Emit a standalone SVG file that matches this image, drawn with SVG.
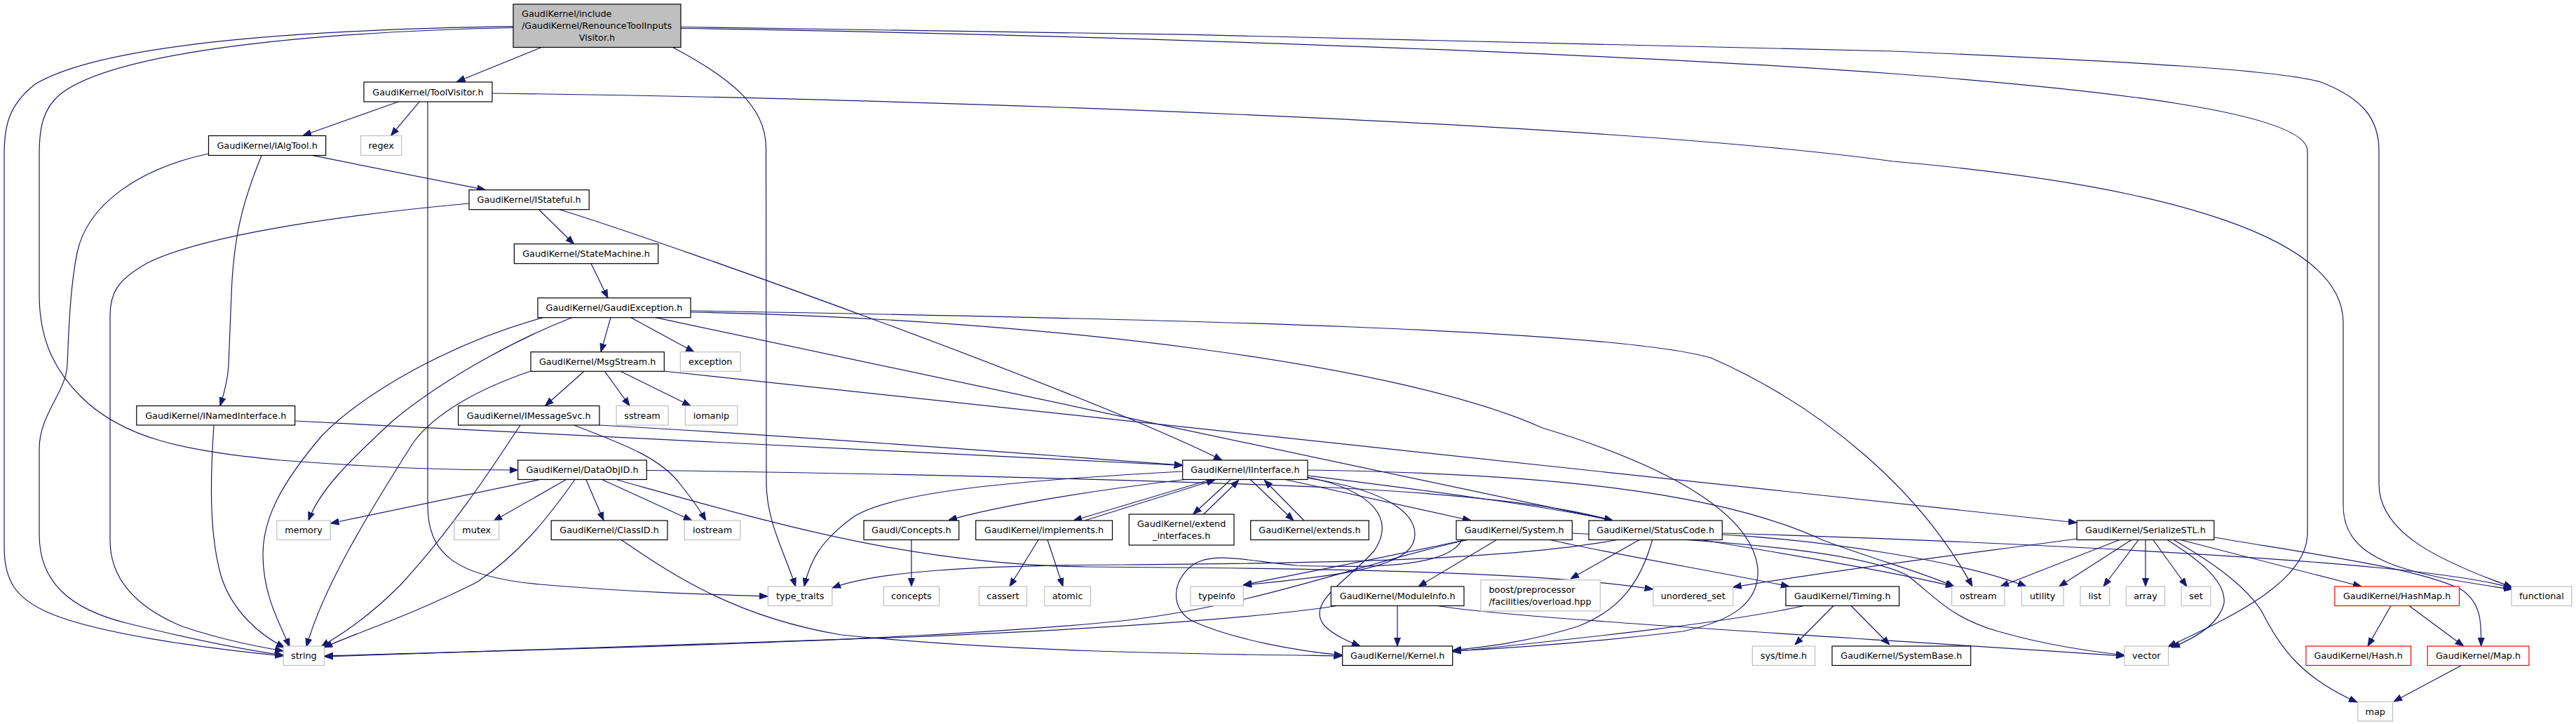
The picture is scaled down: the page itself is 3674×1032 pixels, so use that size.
<svg xmlns="http://www.w3.org/2000/svg" width="3674" height="1032" viewBox="0 0 3674 1032">
<defs>
<style>
text{font-family:"DejaVu Sans","Liberation Sans",sans-serif;font-size:12.8px;text-anchor:middle;fill:#000}
text.l{text-anchor:start}
.n rect{fill:#fff;stroke:#000;stroke-width:1.2}
.g rect{fill:#fff;stroke:#bfbfbf;stroke-width:1.2}
.r rect{fill:#fff;stroke:#ff0000;stroke-width:1.2}
.m rect{fill:#bfbfbf;stroke:#000;stroke-width:1.2}
#edges path{fill:none;stroke:#191970;stroke-width:1.2;marker-end:url(#a)}
</style>
<marker id="a" viewBox="0 0 12 10" refX="12" refY="5" markerWidth="12" markerHeight="10" markerUnits="userSpaceOnUse" orient="auto"><path d="M0,0.5L12,5L0,9.5z" fill="#191970" stroke="#191970" stroke-width="1"/></marker>
</defs>
<rect width="3674" height="1032" fill="#fff"/>
<g id="edges">
<path d="M771.6,67.7 L651.5,116.5"/>
<path d="M732,37.7 C450,42 150,60 50,120 C12,150 6,180 6,220 L6,780 C6,830 25,852 62,870 C130,903 300,925 404,935"/>
<path d="M732,39.5 C430,46 160,75 85,135 C62,155 56,180 56,220 L56,420 C56,480 75,525 115,565 C175,625 260,642 400,656 C560,668 650,670 738.7,670"/>
<path d="M958.7,67 C1040,110 1092,150 1092.5,210 L1093,690 C1094,745 1118,785 1134.7,836"/>
<path d="M971,40.5 C1500,48 2300,75 2700,105 C3000,128 3291,160 3291,215 L3291,760 C3291,830 3180,880 3092,922"/>
<path d="M971,38.5 C1500,44 2300,60 2700,73 C3050,88 3250,100 3310,117 C3370,140 3393,170 3393,215 L3393,690 C3393,760 3480,800 3583,837"/>
<path d="M569,144.7 L432,193.3"/>
<path d="M598.5,144.7 L557.5,193.3"/>
<path d="M610,145 L610,720 C610,790 650,822 770,833 C900,844 1000,847 1095,850"/>
<path d="M702,133 C1300,140 2300,175 2700,230 C3100,265 3342,340 3342,460 L3342,720 C3342,800 3430,818 3583,840"/>
<path d="M446,221.7 L692.5,270.7"/>
<path d="M373,221.7 C345,290 333,340 330,420 L326,520 C325,545 318,565 314,578.5"/>
<path d="M297.5,219 C200,240 125,290 110,360 C100,410 98,470 96,520 C94,560 56,590 56,640 L56,762 C56,830 100,868 180,888 C260,908 340,925 404,934"/>
<path d="M768.6,298.7 L818.5,347.7"/>
<path d="M798,298.7 C950,345 1550,560 1743,656"/>
<path d="M669,290 C450,310 280,340 210,375 C165,400 157,420 157,450 L157,770 C157,830 200,868 260,893 C320,913 370,922 404,928"/>
<path d="M843,375.7 L867,424.7"/>
<path d="M871,452.7 L857,501.7"/>
<path d="M900,452.7 L990,501.7"/>
<path d="M774.5,452.7 C640,490 520,560 460,620 C400,690 375,740 375,790 C375,850 400,890 413,922"/>
<path d="M815.6,452.7 C720,490 620,550 560,600 C495,660 455,700 440,742"/>
<path d="M935,452.7 L2300,742"/>
<path d="M985,445 C1500,455 2000,520 2200,610 C2400,670 2500,740 2507,810 C2510,860 2470,885 2400,900 C2250,918 2130,925 2072,928"/>
<path d="M985,443 C1700,455 2300,470 2440,510 C2600,580 2740,700 2813,836"/>
<path d="M833,529.3 L777.5,578.5"/>
<path d="M862.5,529.3 L898,578.5"/>
<path d="M885,529.3 L985,578.5"/>
<path d="M757,529 C680,555 620,590 590,630 C520,740 460,840 437,922"/>
<path d="M947,529 L2962,745"/>
<path d="M420.7,600 C900,625 1400,650 1686.7,663.5"/>
<path d="M305,606 C300,680 298,760 315,820 C330,870 370,905 406,923"/>
<path d="M855,606 C1200,625 1500,650 1686.7,663"/>
<path d="M742,606 C700,670 640,760 570,835 C520,885 480,908 458,922"/>
<path d="M818.5,606 C880,630 940,650 970,690 C990,715 1000,730 1006.7,742"/>
<path d="M768.6,684 L471.5,746"/>
<path d="M806.8,684 L704,742.5"/>
<path d="M836,684 L861,742"/>
<path d="M819.7,684 C780,740 740,790 680,830 C580,880 500,905 462,923"/>
<path d="M859.6,684 L986.7,742"/>
<path d="M880,684 C1100,745 1300,805 1550,808 C1900,810 2200,815 2357.7,840"/>
<path d="M922.3,670.5 C1300,675 1700,686 1900,695 C2100,705 2230,722 2300,742"/>
<path d="M1686.7,672 C1450,685 1280,700 1220,735 C1170,770 1155,800 1147,836"/>
<path d="M1690,683.5 C1550,700 1420,722 1353,741.5"/>
<path d="M1727,683.5 L1531,742"/>
<path d="M1547,742 L1733,684"/>
<path d="M1755,684 L1701.7,733"/>
<path d="M1716.7,733 L1766.7,684.5"/>
<path d="M1783.3,683.5 L1845,742"/>
<path d="M1860,742 L1803.3,684.5"/>
<path d="M1833,683.5 L2098,742"/>
<path d="M1865,678 C2000,695 2200,720 2300,742"/>
<path d="M1865,680 C1960,700 1990,740 1960,785 C1920,830 1860,860 1890,893 C1905,907 1925,915 1940,921"/>
<path d="M1865,681.5 C1990,700 2030,740 2015,775 C2000,810 1900,822 1773,834"/>
<path d="M1865,670 C2200,675 2450,700 2600,770 C2680,800 2740,815 2787,836"/>
<path d="M2134.5,769.5 L2023,836"/>
<path d="M2210.7,769.5 C2300,790 2450,815 2552,836"/>
<path d="M2093,769.5 C1950,800 1800,862 1600,885 C1300,915 800,925 463,935"/>
<path d="M2090,769.5 C1950,800 1850,818 1773,834"/>
<path d="M2085,769.5 C2070,800 2000,812 1850,806 C1780,800 1730,785 1700,806 C1670,830 1670,868 1700,885 C1760,912 1850,928 1914.7,934"/>
<path d="M2242,760 C2450,770 2650,785 2720,820 C2760,850 2780,880 2850,900 C2920,920 2980,928 3030,934"/>
<path d="M2338,769.5 L2240,825"/>
<path d="M2356.7,769.5 C2340,830 2310,870 2250,893 C2180,915 2120,922 2072,927"/>
<path d="M2306.7,769.5 C2150,798 1900,803 1600,805 C1380,806 1250,815 1187,838"/>
<path d="M2426.7,769.5 C2550,790 2700,815 2787,836"/>
<path d="M2456,762 C2600,770 2800,800 2890,836"/>
<path d="M2456,760 C2800,770 3200,790 3400,810 C3480,818 3540,826 3583,838"/>
<path d="M1993,863.5 L1993,921"/>
<path d="M1906.7,863.5 C1800,880 1600,895 1300,908 C1000,920 700,928 463,936"/>
<path d="M2050,863.5 C2150,880 2500,900 3030,935"/>
<path d="M2615,863.5 L2560,919"/>
<path d="M2640,863.5 L2695,919"/>
<path d="M2573,863.5 C2450,890 2250,910 2072,929"/>
<path d="M886,769.5 C960,820 1050,880 1200,905 C1450,930 1700,932 1914.5,935"/>
<path d="M1299.9,769.5 L1299.9,836"/>
<path d="M1481,769.5 L1440,836"/>
<path d="M1494,769.5 L1516,836"/>
<path d="M3023,769.5 L2853,836"/>
<path d="M3040,769.5 L2936.7,836"/>
<path d="M3050,769.5 L3000,836"/>
<path d="M3060,769.5 L3060,836"/>
<path d="M3070.8,769.5 L3119,836"/>
<path d="M3091,769.5 C3140,800 3175,830 3172,860 C3165,890 3130,910 3097,923"/>
<path d="M3100,769.5 C3170,810 3205,840 3225,870 C3250,920 3280,965 3362,1001"/>
<path d="M3110,769.5 L3368,836"/>
<path d="M3157.8,766 C3300,790 3450,810 3510,840 C3540,860 3539,890 3538.6,921"/>
<path d="M2962,768 C2800,790 2600,815 2471.7,837"/>
<path d="M3410,863.5 L3377,921"/>
<path d="M3436,863.5 L3513.7,921"/>
<path d="M3510.6,948.5 L3414,1000"/>
</g>
<g id="nodes">
<g id="n_main" class="m"><rect x="732" y="6" width="239" height="61.5"/><text class="l" x="744" y="24.3">GaudiKernel/include</text><text class="l" x="744" y="41.3">/GaudiKernel/RenounceToolInputs</text><text x="851.5" y="58.3">Visitor.h</text></g>
<g id="n_toolvisitor" class="n"><rect x="519" y="117" width="183" height="28"/><text x="610.5" y="135.5">GaudiKernel/ToolVisitor.h</text></g>
<g id="n_ialgtool" class="n"><rect x="297.5" y="193.5" width="167.2" height="28"/><text x="381.1" y="212">GaudiKernel/IAlgTool.h</text></g>
<g id="n_regex" class="g"><rect x="514.6" y="193.5" width="58.1" height="28"/><text x="543.65" y="212">regex</text></g>
<g id="n_istateful" class="n"><rect x="669" y="270.7" width="171.2" height="28"/><text x="754.6" y="289.2">GaudiKernel/IStateful.h</text></g>
<g id="n_statemachine" class="n"><rect x="733.4" y="347.7" width="205.3" height="28"/><text x="836.05" y="366.2">GaudiKernel/StateMachine.h</text></g>
<g id="n_gaudiexception" class="n"><rect x="767" y="424.7" width="218" height="28"/><text x="876" y="443.2">GaudiKernel/GaudiException.h</text></g>
<g id="n_msgstream" class="n"><rect x="757" y="501.7" width="190.3" height="27.6"/><text x="852.15" y="520">GaudiKernel/MsgStream.h</text></g>
<g id="n_exception" class="g"><rect x="970.3" y="501.7" width="85.7" height="27.6"/><text x="1013.15" y="520">exception</text></g>
<g id="n_inamedinterface" class="n"><rect x="194.8" y="578.5" width="225.9" height="27.5"/><text x="307.75" y="596.75">GaudiKernel/INamedInterface.h</text></g>
<g id="n_imessagesvc" class="n"><rect x="653.6" y="578.5" width="201.3" height="27.5"/><text x="754.25" y="596.75">GaudiKernel/IMessageSvc.h</text></g>
<g id="n_sstream" class="g"><rect x="879" y="578.5" width="74" height="27.5"/><text x="916" y="596.75">sstream</text></g>
<g id="n_iomanip" class="g"><rect x="977.3" y="578.5" width="74.4" height="27.5"/><text x="1014.5" y="596.75">iomanip</text></g>
<g id="n_dataobjid" class="n"><rect x="738.7" y="656" width="183.6" height="27.5"/><text x="830.5" y="674.25">GaudiKernel/DataObjID.h</text></g>
<g id="n_iinterface" class="n"><rect x="1686.7" y="656" width="178.3" height="27.5"/><text x="1775.85" y="674.25">GaudiKernel/IInterface.h</text></g>
<g id="n_memory" class="g"><rect x="394.9" y="742" width="76.3" height="27.5"/><text x="433.05" y="760.25">memory</text></g>
<g id="n_mutex" class="g"><rect x="647.8" y="742" width="63.9" height="27.5"/><text x="679.75" y="760.25">mutex</text></g>
<g id="n_classid" class="n"><rect x="786.2" y="742" width="165.8" height="27.5"/><text x="869.1" y="760.25">GaudiKernel/ClassID.h</text></g>
<g id="n_iostream" class="g"><rect x="976.3" y="742" width="79.4" height="27.5"/><text x="1016" y="760.25">iostream</text></g>
<g id="n_concepts_h" class="n"><rect x="1232" y="742" width="135.7" height="27.5"/><text x="1299.85" y="760.25">Gaudi/Concepts.h</text></g>
<g id="n_implements" class="n"><rect x="1391.7" y="742" width="194.8" height="27.5"/><text x="1489.1" y="760.25">GaudiKernel/implements.h</text></g>
<g id="n_extend_interfaces" class="n"><rect x="1610.3" y="733" width="149.7" height="44"/><text x="1685.15" y="751">GaudiKernel/extend</text><text x="1685.15" y="768">_interfaces.h</text></g>
<g id="n_extends" class="n"><rect x="1783.7" y="742" width="168.6" height="27.5"/><text x="1868" y="760.25">GaudiKernel/extends.h</text></g>
<g id="n_system" class="n"><rect x="2077" y="742" width="165.3" height="27.5"/><text x="2159.65" y="760.25">GaudiKernel/System.h</text></g>
<g id="n_statuscode" class="n"><rect x="2266" y="742" width="190.3" height="27.5"/><text x="2361.15" y="760.25">GaudiKernel/StatusCode.h</text></g>
<g id="n_serializestl" class="n"><rect x="2962.1" y="742" width="195.7" height="27.5"/><text x="3059.95" y="760.25">GaudiKernel/SerializeSTL.h</text></g>
<g id="n_type_traits" class="g"><rect x="1095.4" y="836" width="91.5" height="27.5"/><text x="1141.15" y="854.25">type_traits</text></g>
<g id="n_concepts" class="g"><rect x="1260.3" y="836" width="79.2" height="27.5"/><text x="1299.9" y="854.25">concepts</text></g>
<g id="n_cassert" class="g"><rect x="1396.4" y="836" width="68.1" height="27.5"/><text x="1430.45" y="854.25">cassert</text></g>
<g id="n_atomic" class="g"><rect x="1489.7" y="836" width="65.7" height="27.5"/><text x="1522.55" y="854.25">atomic</text></g>
<g id="n_typeinfo" class="g"><rect x="1698" y="836" width="75.3" height="27.5"/><text x="1735.65" y="854.25">typeinfo</text></g>
<g id="n_moduleinfo" class="n"><rect x="1898.3" y="836" width="189.7" height="27.5"/><text x="1993.15" y="854.25">GaudiKernel/ModuleInfo.h</text></g>
<g id="n_boost" class="g"><rect x="2112" y="826.7" width="170.3" height="44.3"/><text class="l" x="2123.5" y="844.8">boost/preprocessor</text><text class="l" x="2123.5" y="861.8">/facilities/overload.hpp</text></g>
<g id="n_unordered_set" class="g"><rect x="2357.7" y="836" width="114" height="27.5"/><text x="2414.7" y="854.25">unordered_set</text></g>
<g id="n_timing" class="n"><rect x="2547" y="836" width="161.7" height="27.5"/><text x="2627.85" y="854.25">GaudiKernel/Timing.h</text></g>
<g id="n_ostream" class="g"><rect x="2783.7" y="836" width="75.3" height="27.5"/><text x="2821.35" y="854.25">ostream</text></g>
<g id="n_utility" class="g"><rect x="2883.3" y="836" width="59.7" height="27.5"/><text x="2913.15" y="854.25">utility</text></g>
<g id="n_list" class="g"><rect x="2967" y="836" width="41.7" height="27.5"/><text x="2987.85" y="854.25">list</text></g>
<g id="n_array" class="g"><rect x="3032.3" y="836" width="55.3" height="27.5"/><text x="3059.95" y="854.25">array</text></g>
<g id="n_set" class="g"><rect x="3111.2" y="836" width="41.6" height="27.5"/><text x="3132" y="854.25">set</text></g>
<g id="n_hashmap" class="r"><rect x="3329.9" y="836" width="177.6" height="27.5"/><text x="3418.7" y="854.25">GaudiKernel/HashMap.h</text></g>
<g id="n_functional" class="g"><rect x="3582" y="836" width="85.8" height="27.5"/><text x="3624.9" y="854.25">functional</text></g>
<g id="n_string" class="g"><rect x="404.3" y="921" width="58.1" height="27.5"/><text x="433.35" y="939.25">string</text></g>
<g id="n_kernel" class="n"><rect x="1914.7" y="921" width="157" height="27.5"/><text x="1993.2" y="939.25">GaudiKernel/Kernel.h</text></g>
<g id="n_systime" class="g"><rect x="2499.3" y="921" width="89.4" height="27.5"/><text x="2544" y="939.25">sys/time.h</text></g>
<g id="n_systembase" class="n"><rect x="2613" y="921" width="197.7" height="27.5"/><text x="2711.85" y="939.25">GaudiKernel/SystemBase.h</text></g>
<g id="n_vector" class="g"><rect x="3030" y="921" width="62.6" height="27.5"/><text x="3061.3" y="939.25">vector</text></g>
<g id="n_hash" class="r"><rect x="3288.9" y="921" width="149.7" height="27.5"/><text x="3363.75" y="939.25">GaudiKernel/Hash.h</text></g>
<g id="n_map_h" class="r"><rect x="3462.2" y="921" width="144.7" height="27.5"/><text x="3534.55" y="939.25">GaudiKernel/Map.h</text></g>
<g id="n_map" class="g"><rect x="3362.8" y="1000.3" width="49.7" height="27.5"/><text x="3387.65" y="1018.55">map</text></g>
</g>
</svg>
